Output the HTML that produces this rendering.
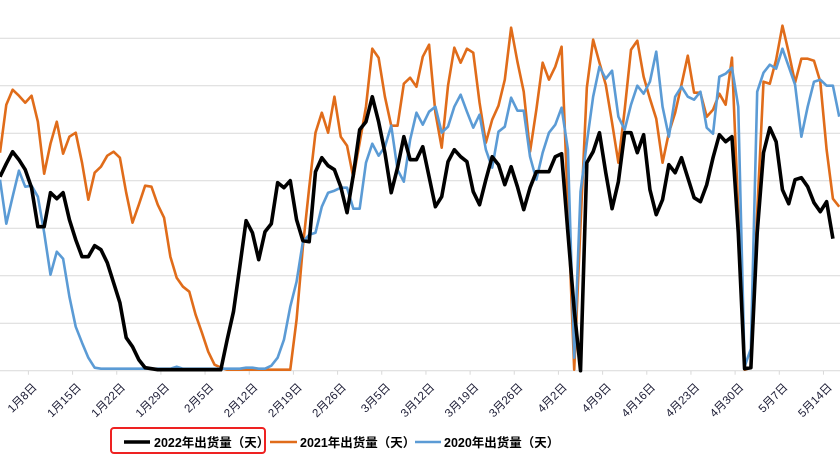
<!DOCTYPE html>
<html><head><meta charset="utf-8">
<style>
html,body{margin:0;padding:0;background:#fff;}
svg{display:block;font-family:"Liberation Sans","Noto Sans CJK SC",sans-serif;}
</style></head>
<body>
<svg id="chart" width="840" height="462" viewBox="0 0 840 462" xmlns="http://www.w3.org/2000/svg">
  <g id="grid"></g>
  <g id="xaxis"></g>
  <g id="series"></g>
  <g>
    <rect x="111" y="428" width="154" height="25" rx="3" fill="none" stroke="#ee2222" stroke-width="2"/>
    <g>
      <line x1="124" y1="442" x2="150" y2="442" stroke="#000" stroke-width="3.5"/>
      <text x="154" y="447" font-size="12.5" font-weight="bold" fill="#000">2022年出货量（天）</text>
    </g>
    <g>
      <line x1="270" y1="442" x2="297" y2="442" stroke="#e06c1a" stroke-width="2.5"/>
      <text x="300" y="447" font-size="12.5" font-weight="bold" fill="#000">2021年出货量（天）</text>
    </g>
    <g>
      <line x1="415" y1="442" x2="441" y2="442" stroke="#5b9bd5" stroke-width="2.5"/>
      <text x="444" y="447" font-size="12.5" font-weight="bold" fill="#000">2020年出货量（天）</text>
    </g>
  </g>
</svg>
<script>
const ones = n => Array(n).fill(1);
const twos = n => Array(n).fill(2);
const tickLabels = ["1月8日","1月15日","1月22日","1月29日","2月5日","2月12日","2月19日","2月26日","3月5日","3月12日","3月19日","3月26日","4月2日","4月9日","4月16日","4月23日","4月30日","5月7日","5月14日","5月21日"];
const series2022 = [194,207,219,211,201,183,144,144,178,172,178,151,131,114,114,125,121,108,88,68,33,24,11,3,2].concat(ones(11),[31,59,104,150,138,111,139,147,188,183,190,151,130,129,199,213,205,201,184,158,196,241,249,274,249,218,178,203,234,211,211,224,194,164,174,209,221,214,209,179,166,191,214,206,186,204,184,161,183,199,199,199,214,217,138,61,0,208,219,238,198,162,189,238,238,218,236,181,156,171,206,198,213,193,173,169,186,213,236,229,234,138,2,3,138,218,243,229,181,167,191,193,184,168,159,169,132]);
const series2021 = [218,266,281,275,268,275,249,197,227,249,217,234,238,208,171,198,204,215,219,213,178,148,166,185,184,166,153,114,93,84,79,56,38,19,6,3].concat(ones(11),[51,124,183,238,258,238,274,234,225,193,228,264,322,313,274,245,245,287,293,284,314,326,258,223,285,323,308,322,318,268,228,251,265,291,343,309,279,219,261,308,291,304,324,163,1,146,283,331,308,286,248,208,261,321,330,294,272,252,208,238,258,286,315,278,278,254,261,277,266,313,158,1,3,158,289,287,311,345,318,288,312,312,310,289,221,172,164]);
const series2020 = [191,147,174,200,184,185,174,138,96,119,112,74,44,28,13,3].concat(twos(12),[4],twos(10),[3,3,2,2,5,13,31,64,89,129,136,138,164,178,180,183,183,162,162,208,227,215,224,245,201,189,231,258,246,259,264,238,244,264,276,259,243,256,221,203,239,244,273,260,260,214,191,218,238,246,263,221,13,179,228,274,304,292,300,254,241,266,285,277,289,319,264,234,274,284,274,271,279,243,237,294,297,303,264,4,22,279,298,306,302,322,304,286,234,264,289,291,285,285,254]);
const gridValues = [0,47.5,95,142.5,190,237.5,285,332.5];
const firstLabelIndex = 5;

const NS = "http://www.w3.org/2000/svg";
const X0 = 0, DX = 6.31, YBASE = 370.7;
const xScale = i => X0 + i * DX;
const yScale = v => YBASE - v;

const grid = document.getElementById('grid');
gridValues.forEach((g, k) => {
  const l = document.createElementNS(NS, 'line');
  
  
  l.setAttribute('x1', 0); l.setAttribute('x2', 840);
  l.setAttribute('y1', yScale(g)); l.setAttribute('y2', yScale(g));
  l.setAttribute('stroke', '#d9d9d9'); l.setAttribute('stroke-width', '1');
  grid.appendChild(l);
});

const xaxis = document.getElementById('xaxis');
tickLabels.forEach((lab, k) => {
  const idx = firstLabelIndex + 7 * k;
  const tx = xScale(idx - 0.5);
  const t = document.createElementNS(NS, 'line');
  
  
  t.setAttribute('x1', tx); t.setAttribute('x2', tx);
  t.setAttribute('y1', YBASE); t.setAttribute('y2', YBASE + 4);
  t.setAttribute('stroke', '#d9d9d9');
  xaxis.appendChild(t);
  const tl = document.createElementNS(NS, 'text');
  
  
  const ax = xScale(idx) + 6, ay = 388;
  tl.setAttribute('transform', 'translate(' + ax + ',' + ay + ') rotate(-45)');
  tl.setAttribute('text-anchor', 'end');
  tl.setAttribute('font-size', '11.5');
  tl.setAttribute('fill', '#1a1a33');
  tl.textContent = lab;
  xaxis.appendChild(tl);
});

const seriesG = document.getElementById('series');
function drawLine(data, color, width, name) {
  const p = document.createElementNS(NS, 'polyline');
  
  
  p.setAttribute('points', data.map((v, i) => xScale(i).toFixed(2) + ',' + yScale(v).toFixed(2)).join(' '));
  p.setAttribute('fill', 'none');
  p.setAttribute('stroke', color);
  p.setAttribute('stroke-width', width);
  p.setAttribute('stroke-linejoin', 'round');
  seriesG.appendChild(p);
}
drawLine(series2021, '#e06c1a', 2.6, 'line-2021');
drawLine(series2020, '#5b9bd5', 2.6, 'line-2020');
drawLine(series2022, '#000000', 3.6, 'line-2022');
</script>
</body></html>
